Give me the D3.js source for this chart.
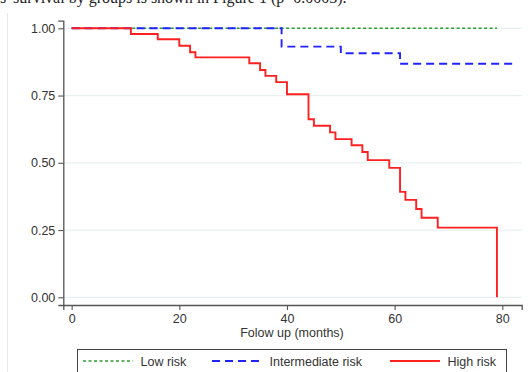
<!DOCTYPE html>
<html>
<head>
<meta charset="utf-8">
<script src="https://cdn.jsdelivr.net/npm/d3@7"></script>
<style>
  html, body { margin: 0; padding: 0; background: #fff; }
  svg { display: block; }
</style>
</head>
<body>
<svg id="chart" width="532" height="372"></svg>
<script>
// Kaplan–Meier survival estimates by risk group (time in months, survival proportion)
const lowTimes = [0, 79];
const lowSurv = [1.0, 1.0];

const interTimes = [0, 39, 50, 61, 82];
const interSurv = [1.0, 0.932, 0.907, 0.868, 0.868];

const highTimes = [0, 11, 16, 20, 22, 23, 33, 35, 36, 38, 40, 44, 45, 48, 49, 52, 54, 55, 59, 61, 62, 64, 65, 68, 79];
const highSurv = [1.0, 0.979, 0.959, 0.935, 0.911, 0.892, 0.870, 0.845, 0.823, 0.800, 0.755, 0.662, 0.638, 0.613, 0.588, 0.565, 0.540, 0.510, 0.481, 0.392, 0.362, 0.328, 0.296, 0.259, 0.0];

const xTicks = [0, 20, 40, 60, 80];
const yTicks = [0, 0.25, 0.5, 0.75, 1.0];
const groupNames = ["Low risk", "Intermediate risk", "High risk"];

const svg = d3.select("#chart");

// surrounding document text and page edge
svg.append("line")
  .attr("x1", 7.5).attr("x2", 7.5).attr("y1", 13).attr("y2", 372)
  .attr("stroke", "#e2eaee").attr("stroke-width", 1);
svg.append("text")
  .attr("x", 0).attr("y", 3)
  .attr("font-family", "Liberation Serif, Times New Roman, serif")
  .attr("font-size", 16).attr("fill", "#222")
  .text("s' survival by groups is shown in Figure 1 (p=0.0003).");

const x = d3.scaleLinear().domain([-1.55, 83.6]).range([63.3, 521.7]);
const y = d3.scaleLinear().domain([-0.0286, 1.0286]).range([305, 20.6]);

// grid lines
svg.append("g")
  .selectAll("line")
  .data(yTicks)
  .join("line")
  .attr("x1", x.range()[0]).attr("x2", x.range()[1])
  .attr("y1", d => y(d)).attr("y2", d => y(d))
  .attr("stroke", "#e8f0f1").attr("stroke-width", 1.2);

const axisColor = "#555";
const labelFont = "Liberation Sans, Arial, sans-serif";
const labelSize = 12.5;

const xAxis = svg.append("g")
  .attr("transform", `translate(0,${y.range()[0]})`)
  .call(d3.axisBottom(x).tickValues(xTicks).tickFormat(d3.format("d")).tickSizeOuter(0).tickSize(5).tickPadding(4));
const yAxis = svg.append("g")
  .attr("transform", `translate(${x.range()[0]},0)`)
  .call(d3.axisLeft(y).tickValues(yTicks).tickFormat(d3.format(".2f")).tickSizeOuter(0).tickSize(5).tickPadding(3));

[xAxis, yAxis].forEach(g => {
  g.select(".domain").attr("stroke", axisColor).attr("stroke-width", 1.3);
  g.selectAll(".tick line").attr("stroke", axisColor).attr("stroke-width", 1.1);
  g.selectAll(".tick text").attr("font-family", labelFont).attr("font-size", labelSize).attr("fill", "#333");
});

svg.append("text")
  .attr("x", 292).attr("y", 337)
  .attr("text-anchor", "middle")
  .attr("font-family", labelFont).attr("font-size", labelSize).attr("fill", "#333")
  .text("Folow up (months)");

// survival curves
const stepLine = d3.line()
  .x(d => x(d[0]))
  .y(d => y(d[1]))
  .curve(d3.curveStepAfter);

const series = [
  { name: groupNames[0], times: lowTimes, surv: lowSurv, color: "#2e9a2e", dash: "3,2.5", width: 1.6 },
  { name: groupNames[1], times: interTimes, surv: interSurv, color: "#2222ff", dash: "8,5", width: 1.9 },
  { name: groupNames[2], times: highTimes, surv: highSurv, color: "#ff2020", dash: null, width: 1.9 }
];

series.forEach(s => {
  svg.append("path")
    .datum(s.times.map((t, i) => [t, s.surv[i]]))
    .attr("d", stepLine)
    .attr("fill", "none")
    .attr("stroke", s.color)
    .attr("stroke-width", s.width)
    .attr("stroke-dasharray", s.dash);
});

// legend
const legend = svg.append("g");
legend.append("rect")
  .attr("x", 77.5).attr("y", 349.5).attr("width", 429).attr("height", 40)
  .attr("fill", "#fff").attr("stroke", "#444").attr("stroke-width", 1);

const legendX = [83, 212, 390];
series.forEach((s, i) => {
  legend.append("line")
    .attr("x1", legendX[i]).attr("x2", legendX[i] + 50)
    .attr("y1", 361).attr("y2", 361)
    .attr("stroke", s.color).attr("stroke-width", s.width)
    .attr("stroke-dasharray", s.dash);
  legend.append("text")
    .attr("x", legendX[i] + 57.5).attr("y", 365.5)
    .attr("font-family", labelFont).attr("font-size", labelSize).attr("fill", "#333")
    .text(s.name);
});
</script>
</body>
</html>
